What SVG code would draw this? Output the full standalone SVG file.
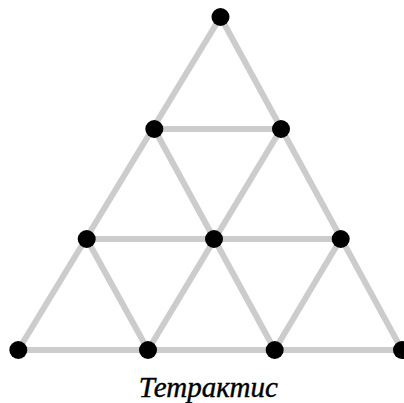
<svg xmlns="http://www.w3.org/2000/svg" width="404" height="403" viewBox="0 0 404 403">
<style>
.e{stroke:#cccccc;stroke-width:6;fill:none;stroke-linecap:butt}
.n{fill:#000}
.t{font-family:"Liberation Serif","Times New Roman",serif;font-style:italic;font-size:29px;fill:#000;text-anchor:middle;stroke:#000;stroke-width:0.4}
</style>
<rect width="404" height="403" fill="#fff"/>
<g id="connectors">
<line class="e" x1="220.5" y1="17" x2="18.3" y2="350"/>
<line class="e" x1="220.5" y1="17" x2="402" y2="350"/>
<line class="e" x1="154.3" y1="129" x2="281" y2="129"/>
<line class="e" x1="86.7" y1="239" x2="340.7" y2="239"/>
<line class="e" x1="18.3" y1="350" x2="402" y2="350"/>
<line class="e" x1="154.3" y1="129" x2="274.7" y2="350"/>
<line class="e" x1="281" y1="129" x2="148" y2="350"/>
<line class="e" x1="86.7" y1="239" x2="148" y2="350"/>
<line class="e" x1="340.7" y1="239" x2="274.7" y2="350"/>
</g>
<g id="n1"><circle class="n" cx="220.5" cy="17" r="9"/></g>
<g id="n2"><circle class="n" cx="154.3" cy="129" r="9"/></g>
<g id="n3"><circle class="n" cx="281" cy="129" r="9"/></g>
<g id="n4"><circle class="n" cx="86.7" cy="239" r="9"/></g>
<g id="n5"><circle class="n" cx="214" cy="239" r="9"/></g>
<g id="n6"><circle class="n" cx="340.7" cy="239" r="9"/></g>
<g id="n7"><circle class="n" cx="18.3" cy="350" r="9"/></g>
<g id="n8"><circle class="n" cx="148" cy="350" r="9"/></g>
<g id="n9"><circle class="n" cx="274.7" cy="350" r="9"/></g>
<g id="n10"><circle class="n" cx="402" cy="350" r="9"/></g>
<text class="t" x="208.3" y="396.7">Тетрактис</text>
</svg>
